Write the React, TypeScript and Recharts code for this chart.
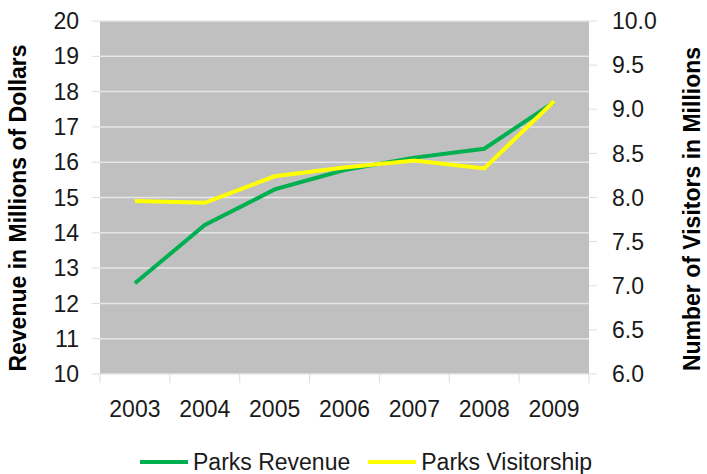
import React from "react";
import { LineChart, Line, XAxis, YAxis, CartesianGrid, Label } from "recharts";

const years = ["2003", "2004", "2005", "2006", "2007", "2008", "2009"];
const revenue = [12.57, 14.22, 15.23, 15.78, 16.13, 16.38, 17.7];
const visitors = [7.96, 7.94, 8.24, 8.34, 8.42, 8.33, 9.09];
const leftTicks = [10, 11, 12, 13, 14, 15, 16, 17, 18, 19, 20];
const rightTicks = [6, 6.5, 7, 7.5, 8, 8.5, 9, 9.5, 10];
const seriesNames = ["Parks Revenue", "Parks Visitorship"];
const seriesColors = ["#00B050", "#FFFF00"];

const data = years.map((y, i) => ({ year: y, revenue: revenue[i], visitors: visitors[i] }));

const W = 707;
const H = 474;
const LEFT_W = 100;
const RIGHT_W = 118;
const TOP = 21;
const X_H = 100;
const BW = (W - LEFT_W - RIGHT_W) / years.length;
const FONT = "'Liberation Sans', Arial, sans-serif";

const XTick = (props: any) => {
  const { x, y, payload, index } = props;
  const last = index === years.length - 1;
  return (
    <g>
      <line x1={x - BW / 2} x2={x - BW / 2} y1={y} y2={y + 9} stroke="#dedede" strokeWidth={1} />
      {last && <line x1={x + BW / 2} x2={x + BW / 2} y1={y} y2={y + 9} stroke="#dedede" strokeWidth={1} />}
      <text x={x} y={y + 43} textAnchor="middle" fontSize={23} fontFamily={FONT} fill="#1a1a1a">
        {payload.value}
      </text>
    </g>
  );
};

export default function App() {
  return (
    <div style={{ position: "absolute", left: 0, top: 0, width: W, height: H, background: "#fff" }}>
      <LineChart width={W} height={H} data={data} margin={{ top: TOP, right: 0, left: 0, bottom: 0 }}>
        <CartesianGrid yAxisId="left" vertical={false} fill="#C0C0C0" stroke="#E6E6E6" strokeWidth={1.5} />
        <XAxis
          dataKey="year"
          height={X_H}
          axisLine={false}
          tickLine={false}
          tickSize={0}
          tickMargin={0}
          tick={<XTick />}
          interval={0}
          padding={{ left: BW / 2, right: BW / 2 }}
        />
        <YAxis
          yAxisId="left"
          width={LEFT_W}
          domain={[10, 20]}
          ticks={leftTicks}
          axisLine={false}
          tickSize={8}
          tickMargin={13}
          tickLine={{ stroke: "#dedede" }}
          tick={{ fontSize: 23, fontFamily: FONT, fill: "#1a1a1a" }}
        >
          <Label
            content={() => (
              <text
                x={18}
                y={208}
                transform="rotate(-90 18 208)"
                textAnchor="middle"
                dominantBaseline="central"
                fontSize={23}
                fontWeight="bold"
                fontFamily={FONT}
                fill="#000"
              >
                Revenue in Millions of Dollars
              </text>
            )}
          />
        </YAxis>
        <YAxis
          yAxisId="right"
          orientation="right"
          width={RIGHT_W}
          domain={[6, 10]}
          ticks={rightTicks}
          tickFormatter={(v: number) => v.toFixed(1)}
          axisLine={false}
          tickSize={8}
          tickMargin={15}
          tickLine={{ stroke: "#dedede" }}
          tick={{ fontSize: 23, fontFamily: FONT, fill: "#1a1a1a" }}
        >
          <Label
            content={() => (
              <text
                x={692}
                y={209}
                transform="rotate(-90 692 209)"
                textAnchor="middle"
                dominantBaseline="central"
                fontSize={23}
                fontWeight="bold"
                fontFamily={FONT}
                fill="#000"
              >
                Number of Visitors in Millions
              </text>
            )}
          />
        </YAxis>
        <Line
          yAxisId="left"
          type="linear"
          dataKey="revenue"
          name={seriesNames[0]}
          stroke={seriesColors[0]}
          strokeWidth={4}
          dot={false}
          isAnimationActive={false}
        />
        <Line
          yAxisId="right"
          type="linear"
          dataKey="visitors"
          name={seriesNames[1]}
          stroke={seriesColors[1]}
          strokeWidth={4}
          dot={false}
          isAnimationActive={false}
        />
      </LineChart>
      <div
        style={{
          position: "absolute",
          left: 140,
          top: 449,
          display: "flex",
          alignItems: "center",
          fontFamily: FONT,
          fontSize: 23,
          color: "#1a1a1a",
          whiteSpace: "nowrap",
          lineHeight: "26px",
        }}
      >
        {seriesNames.map((n, i) => (
          <div key={n} style={{ display: "flex", alignItems: "center", marginLeft: i === 0 ? 0 : 18 }}>
            <span style={{ display: "inline-block", width: 48, height: 4, background: seriesColors[i], marginRight: 5 }} />
            <span>{n}</span>
          </div>
        ))}
      </div>
    </div>
  );
}
